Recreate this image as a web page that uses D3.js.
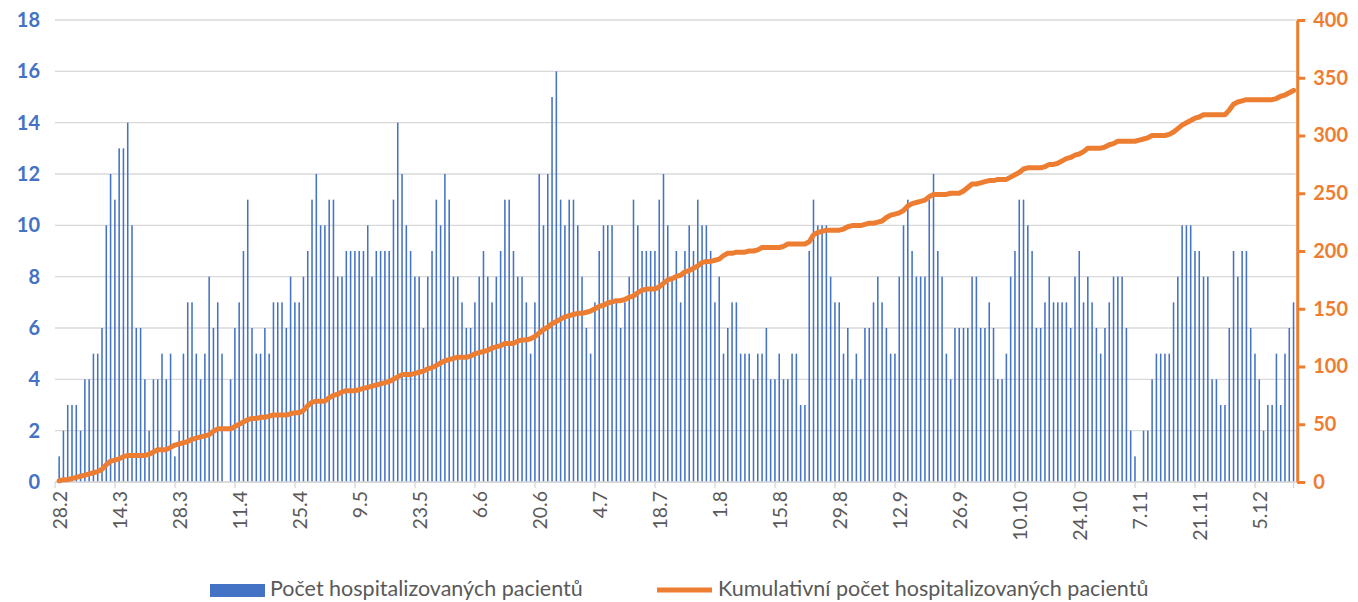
<!DOCTYPE html>
<html>
<head>
<meta charset="utf-8">
<script src="https://cdn.jsdelivr.net/npm/d3@7"></script>
<style>
  body { margin: 0; background: #fff; }
  svg { display: block; font-family: "Lato", "Open Sans", sans-serif; }
</style>
</head>
<body>
<svg id="chart" width="1358" height="602"></svg>
<script>
// ── data ──────────────────────────────────────────────────
// denní počet hospitalizovaných, od 28.2
const hospitalized = [
  1,2,3,3,3,2,4,4,5,5, 6,10,12,11,13,13,14,10,6,6, 4,2,4,4,5,4,5,1,2,5,
  7,7,5,4,5,8,6,7,5,0, 4,6,7,9,11,6,5,5,6,5, 7,7,7,6,8,7,7,8,9,11,
  12,10,10,11,11,8,8,9,9,9, 9,9,10,8,9,9,9,9,11,14, 12,10,9,8,8,6,8,9,11,10,
  12,11,8,8,7,6,6,7,8,9, 8,7,8,9,11,11,9,8,8,7, 5,7,12,10,12,15,16,11,10,11,
  11,10,8,6,5,7,9,10,10,10, 7,6,7,8,11,10,9,9,9,9, 11,12,10,8,9,7,9,10,9,11,
  10,10,9,7,8,5,6,7,7,5, 5,5,4,5,5,6,4,4,5,4, 4,5,5,3,3,9,11,10,10,10,
  8,7,7,5,6,4,5,4,6,6, 7,8,7,6,5,5,8,10,11,9, 8,8,8,11,12,9,8,5,4,6,
  6,6,6,8,8,6,6,7,6,4, 4,5,8,9,11,11,10,9,6,6, 7,8,7,7,7,7,6,8,9,7,
  8,7,6,5,6,7,8,8,8,6, 2,1,0,2,2,4,5,5,5,5, 7,8,10,10,10,9,9,8,8,4,
  4,3,3,6,9,8,9,9,6,5, 4,2,3,3,5,3,5,6,7
];
// kumulativní počet (pravá osa)
const cumulative = [
  1,2,2,3,4,5,6,7,8,9, 11,15,18,19,20,22,23,23,23,23, 23,24,26,28,28,28,30,32,33,34,
  35,37,38,39,40,41,44,46,46,46, 46,48,50,52,54,55,55,56,56,57, 58,58,58,58,59,60,60,62,66,69,
  70,70,70,73,75,76,78,79,79,79, 80,81,82,83,84,85,86,87,89,91, 93,93,93,94,95,96,98,99,101,103,
  105,106,107,108,108,108,109,111,112,113, 114,116,117,118,120,120,120,122,123,123, 124,126,129,132,134,137,139,141,143,144,
  145,146,146,147,148,150,152,153,155,156, 157,157,158,160,161,164,166,167,167,167, 169,172,175,176,178,179,182,183,185,187,
  190,191,191,192,193,196,198,198,199,199, 199,200,200,201,203,203,203,203,203,204, 206,206,206,206,206,208,214,216,217,218,
  218,218,218,219,221,222,222,222,223,224, 224,225,226,229,231,232,233,235,239,241, 242,243,244,247,249,249,249,249,250,250,
  250,252,255,258,258,259,260,261,261,262, 262,262,264,266,268,271,272,272,272,272, 273,275,275,276,278,280,281,283,284,286,
  289,289,289,289,290,292,293,295,295,295, 295,295,296,297,298,300,300,300,300,301, 303,306,309,311,313,315,316,318,318,318,
  318,318,318,322,327,329,330,331,331,331, 331,331,331,331,332,334,335,337,339
];
const tickLabels = ["28.2","14.3","28.3","11.4","25.4","9.5","23.5","6.6","20.6","4.7",
  "18.7","1.8","15.8","29.8","12.9","26.9","10.10","24.10","7.11","21.11","5.12"];
const LABEL_EVERY = 14;   // popisek každých 14 dní
const leftTicks  = d3.range(0, 19, 2);
const rightTicks = d3.range(0, 401, 50);
const seriesNames = ["Počet hospitalizovaných pacientů", "Kumulativní počet hospitalizovaných pacientů"];

// ── layout ────────────────────────────────────────────────
const BLUE = "#4472C4", ORANGE = "#ED7D31", GRID = "#d9d9d9", TEXT = "#595959";
const svg = d3.select("#chart");
const n = hospitalized.length;
const plotTop = 20, plotBottom = 482, plotLeft = 57, plotRight = 1295.7;

const x = d3.scaleBand().domain(d3.range(n)).range([plotLeft, plotRight])
  .paddingInner(0.64).paddingOuter(0.32);
const step = x.step();
const yL = d3.scaleLinear().domain([0, 18]).range([plotBottom, plotTop]);
const yR = d3.scaleLinear().domain([0, 400]).range([plotBottom, plotTop]);

// gridlines
svg.append("g").selectAll("line").data(leftTicks).join("line")
  .attr("x1", plotLeft - 2).attr("x2", plotRight)
  .attr("y1", d => yL(d)).attr("y2", d => yL(d))
  .attr("stroke", GRID).attr("stroke-width", 1.3);

// bars
svg.append("g").selectAll("rect").data(hospitalized).join("rect")
  .attr("x", (d, i) => x(i))
  .attr("y", d => yL(d))
  .attr("width", x.bandwidth())
  .attr("height", d => yL(0) - yL(d))
  .attr("fill", BLUE);

// x axis: baseline + ticks between categories every 14 days
const tickIdx = d3.range(0, n, LABEL_EVERY);
svg.append("line").attr("x1", plotLeft - 2).attr("x2", plotRight)
  .attr("y1", plotBottom).attr("y2", plotBottom).attr("stroke", GRID).attr("stroke-width", 1.3);
svg.append("g").selectAll("line").data(tickIdx.concat([n])).join("line")
  .attr("x1", i => plotLeft - 2 + i * step).attr("x2", i => plotLeft - 2 + i * step)
  .attr("y1", plotBottom).attr("y2", plotBottom + 6)
  .attr("stroke", GRID).attr("stroke-width", 1.3);
svg.append("g").selectAll("text").data(tickIdx).join("text")
  .attr("transform", i => `translate(${x(i) + x.bandwidth() / 2 + 1},${plotBottom + 9}) rotate(-90)`)
  .attr("dy", "0.35em")
  .attr("text-anchor", "end")
  .attr("fill", TEXT).attr("font-size", 19.5)
  .text((i, j) => tickLabels[j]);

// cumulative line
const line = d3.line()
  .x((d, i) => x(i) + x.bandwidth() / 2)
  .y(d => yR(d));
svg.append("path").datum(cumulative)
  .attr("d", line)
  .attr("fill", "none").attr("stroke", ORANGE)
  .attr("stroke-width", 5).attr("stroke-linejoin", "round").attr("stroke-linecap", "round");

// left axis
const axL = svg.append("g").attr("transform", `translate(${plotLeft - 17},0)`)
  .call(d3.axisLeft(yL).tickValues(leftTicks).tickSize(0).tickPadding(0));
axL.select(".domain").remove();
axL.selectAll("text").attr("fill", BLUE).attr("font-size", 20).attr("font-weight", "bold")
  .attr("font-family", "Lato, 'Open Sans', sans-serif");

// right axis
const axR = svg.append("g").attr("transform", `translate(${plotRight + 1.5},0)`)
  .call(d3.axisRight(yR).tickValues(rightTicks).tickSize(8).tickSizeOuter(0).tickPadding(8));
axR.select(".domain").attr("stroke", ORANGE).attr("stroke-width", 3);
axR.selectAll(".tick line").attr("stroke", ORANGE).attr("stroke-width", 3);
axR.selectAll("text").attr("fill", ORANGE).attr("font-size", 20).attr("font-weight", "bold")
  .attr("font-family", "Lato, 'Open Sans', sans-serif");

// legend
const lg = svg.append("g").attr("font-size", 21.5).attr("fill", TEXT);
lg.append("rect").attr("x", 210).attr("y", 584).attr("width", 55).attr("height", 13).attr("fill", BLUE);
lg.append("text").attr("x", 270).attr("y", 596).text(seriesNames[0]);
lg.append("line").attr("x1", 657).attr("x2", 712).attr("y1", 590).attr("y2", 590)
  .attr("stroke", ORANGE).attr("stroke-width", 5);
lg.append("text").attr("x", 718).attr("y", 596).text(seriesNames[1]);
</script>
</body>
</html>
